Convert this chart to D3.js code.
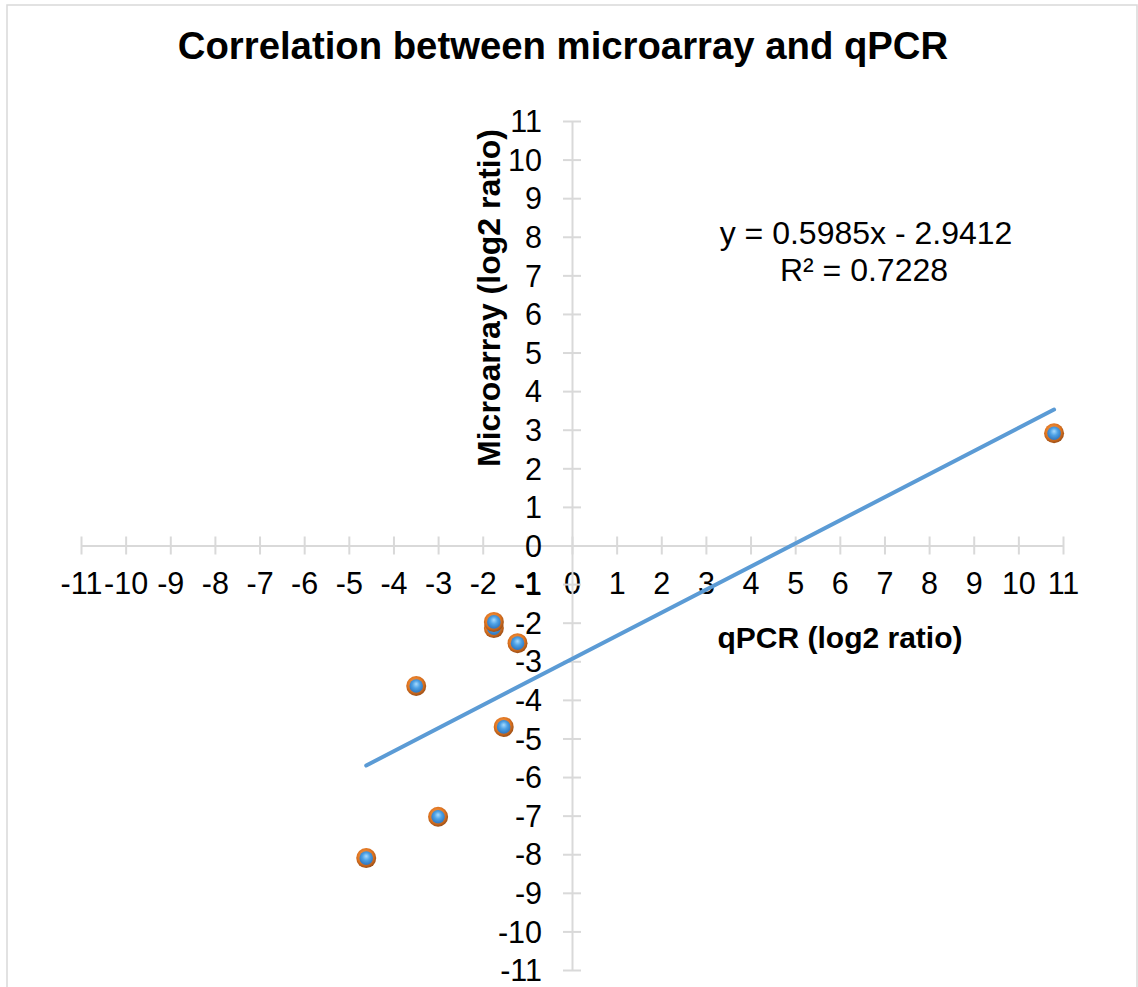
<!DOCTYPE html>
<html>
<head>
<meta charset="utf-8">
<script src="https://cdn.jsdelivr.net/npm/d3@7"></script>
<style>
  html, body { margin: 0; padding: 0; background: #ffffff; }
  svg { display: block; font-family: "Liberation Sans", Arial, sans-serif; }
</style>
</head>
<body>
<svg id="chart" width="1138" height="987"></svg>
<script>
// qPCR vs microarray log2 ratios for each gene
const qpcr       = [10.8, -1.75, -1.75, -1.22, -1.53, -3.49, -3.0, -4.61];
const microarray = [2.91, -2.14, -1.98, -2.53, -4.70, -3.64, -7.03, -8.10];

// Linear trendline fitted to the points
const slope = 0.5985;
const intercept = -2.9412;
const rSquared = 0.7228;

const xTicks = d3.range(-11, 12);
const yTicks = d3.range(-11, 12);

const titleText = "Correlation between microarray and qPCR";
const xTitle = "qPCR (log2 ratio)";
const yTitle = "Microarray (log2 ratio)";

const svg = d3.select("#chart");
const W = 1138, H = 987;

const x = d3.scaleLinear().domain([-11, 11]).range([81, 1063]);
const y = d3.scaleLinear().domain([-11, 11]).range([970, 121]);

const gridGrey = "#d9d9d9";

// chart area border
svg.append("rect")
  .attr("x", 7).attr("y", 5)
  .attr("width", W - 8).attr("height", H + 10)
  .attr("fill", "#fff")
  .attr("stroke", gridGrey).attr("stroke-width", 1.5);

// marker gradients
const defs = svg.append("defs");
const ring = defs.append("radialGradient").attr("id", "ring")
  .attr("cx", "45%").attr("cy", "40%").attr("r", "60%");
ring.append("stop").attr("offset", "0%").attr("stop-color", "#f7a95f");
ring.append("stop").attr("offset", "65%").attr("stop-color", "#e0741f");
ring.append("stop").attr("offset", "100%").attr("stop-color", "#9c4f17");

const core = defs.append("radialGradient").attr("id", "core")
  .attr("cx", "50%").attr("cy", "45%").attr("r", "60%")
  .attr("fx", "50%").attr("fy", "35%");
core.append("stop").attr("offset", "0%").attr("stop-color", "#a8dafc");
core.append("stop").attr("offset", "45%").attr("stop-color", "#4ea2e6");
core.append("stop").attr("offset", "100%").attr("stop-color", "#2b6fb8");

// x axis through y = 0, cross-style ticks
const xAxis = svg.append("g")
  .attr("transform", `translate(0,${y(0)})`)
  .call(d3.axisBottom(x).tickValues(xTicks).tickSizeInner(9).tickSizeOuter(0));
xAxis.select(".domain").attr("stroke", gridGrey).attr("stroke-width", 2);
xAxis.selectAll(".tick line").attr("y1", -9).attr("y2", 9)
  .attr("stroke", gridGrey).attr("stroke-width", 2);
xAxis.selectAll(".tick text")
  .attr("y", 38).attr("dy", "0.35em")
  .attr("fill", "#000").attr("font-size", 30.5)
  .attr("font-family", "Liberation Sans, Arial, sans-serif")
  .text(d => d < 0 ? "-" + Math.abs(d) : d);

// y axis through x = 0
const yAxis = svg.append("g")
  .attr("transform", `translate(${x(0)},0)`)
  .call(d3.axisLeft(y).tickValues(yTicks).tickSizeInner(9).tickSizeOuter(0));
yAxis.select(".domain").attr("stroke", gridGrey).attr("stroke-width", 2);
yAxis.selectAll(".tick line").attr("x1", -9).attr("x2", 9)
  .attr("stroke", gridGrey).attr("stroke-width", 2);
yAxis.selectAll(".tick text")
  .attr("x", -30).attr("dy", "0.35em")
  .attr("fill", "#000").attr("font-size", 30.5)
  .attr("font-family", "Liberation Sans, Arial, sans-serif")
  .text(d => d < 0 ? "-" + Math.abs(d) : d);

// points
const pts = qpcr.map((q, i) => ({ q, m: microarray[i] }));
const mk = svg.append("g");
const marker = mk.selectAll("g").data(pts).join("g")
  .attr("transform", d => `translate(${x(d.q)},${y(d.m)})`);
marker.append("circle").attr("r", 10).attr("fill", "url(#ring)");
marker.append("circle").attr("r", 6.8).attr("fill", "url(#core)");

// trendline over the data range
const xr = d3.extent(qpcr);
svg.append("line")
  .attr("x1", x(xr[0])).attr("y1", y(slope * xr[0] + intercept))
  .attr("x2", x(xr[1])).attr("y2", y(slope * xr[1] + intercept))
  .attr("stroke", "#5b9bd5").attr("stroke-width", 4)
  .attr("stroke-linecap", "round");

// trendline equation
const eq = svg.append("text")
  .attr("text-anchor", "middle").attr("font-size", 32).attr("fill", "#000");
eq.append("tspan").attr("x", 866).attr("y", 244)
  .text(`y = ${slope}x - ${Math.abs(intercept)}`);
eq.append("tspan").attr("x", 864).attr("y", 281)
  .text(`R² = ${rSquared}`);

// titles
svg.append("text")
  .attr("x", 563).attr("y", 59)
  .attr("text-anchor", "middle")
  .attr("font-size", 38.3).attr("font-weight", "bold").attr("fill", "#000")
  .text(titleText);

svg.append("text")
  .attr("x", 840).attr("y", 648)
  .attr("text-anchor", "middle")
  .attr("font-size", 30).attr("font-weight", "bold").attr("fill", "#000")
  .text(xTitle);

svg.append("text")
  .attr("transform", "translate(500,298) rotate(-90)")
  .attr("text-anchor", "middle")
  .attr("font-size", 32).attr("font-weight", "bold").attr("fill", "#000")
  .text(yTitle);
</script>
</body>
</html>
